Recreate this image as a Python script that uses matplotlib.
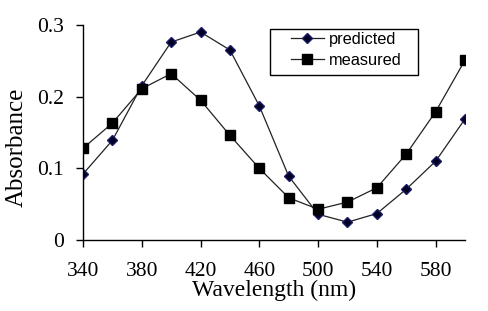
import matplotlib
matplotlib.use("Agg")
import matplotlib.pyplot as plt
from matplotlib.patches import Rectangle
from matplotlib.ticker import FuncFormatter

wavelength = [340, 360, 380, 400, 420, 440, 460, 480, 500, 520, 540, 560, 580, 600]
predicted = [0.092, 0.139, 0.215, 0.276, 0.290, 0.265, 0.187, 0.089, 0.036, 0.025, 0.037, 0.071, 0.110, 0.169]
measured = [0.128, 0.163, 0.211, 0.232, 0.195, 0.146, 0.100, 0.059, 0.043, 0.053, 0.073, 0.120, 0.179, 0.251]
xticks = [340, 380, 420, 460, 500, 540, 580]
yticks = [0, 0.1, 0.2, 0.3]

W, H = 488, 311
fig = plt.figure(figsize=(W / 100, H / 100), dpi=100)
ax = fig.add_axes([0.170, 0.228, 0.783, 0.692])

ax.plot(wavelength, predicted, color="#222222", lw=0.9, marker="D", ms=5.5,
        mfc="#000022", mec="#1a1a66", label="predicted")
ax.plot(wavelength, measured, color="#222222", lw=0.9, marker="s", ms=7,
        mfc="black", mec="black", label="measured")

ax.set_xlim(340, 600)
ax.set_ylim(0, 0.3)
ax.set_xticks(xticks)
ax.set_yticks(yticks)
ax.yaxis.set_major_formatter(FuncFormatter(lambda v, p: "0" if v == 0 else f"{v:.1f}"))

for s in ["top", "right"]:
    ax.spines[s].set_visible(False)
for s in ["left", "bottom"]:
    ax.spines[s].set_linewidth(1.0)
ax.tick_params(direction="out", length=5, width=1.0, labelsize=15.5)
ax.tick_params(axis="x", pad=11)
ax.tick_params(axis="y", pad=9)
for lab in ax.get_xticklabels() + ax.get_yticklabels():
    lab.set_fontfamily("Liberation Serif")

ax.set_xlabel("Wavelength (nm)", fontfamily="Liberation Serif", fontsize=17, labelpad=-1)
ax.set_ylabel("Absorbance", fontfamily="Liberation Serif", fontsize=18)
ax.yaxis.set_label_coords((28 - 83) / 383, 0.43)

# legend box drawn separately (Excel-style wide left padding)
fig.patches.append(Rectangle((270 / W, 1 - 75 / H), 148 / W, 46 / H, transform=fig.transFigure,
                             fill=False, edgecolor="black", lw=1.0))
leg = fig.legend(*ax.get_legend_handles_labels(), loc="upper left",
                 bbox_to_anchor=(291 / W, 1 - 32 / H), frameon=False,
                 prop={"family": "Liberation Sans", "size": 11.8},
                 handlelength=2.0, borderpad=0, borderaxespad=0,
                 labelspacing=0.38, handletextpad=0.3)

fig.savefig("out.png", dpi=100)
